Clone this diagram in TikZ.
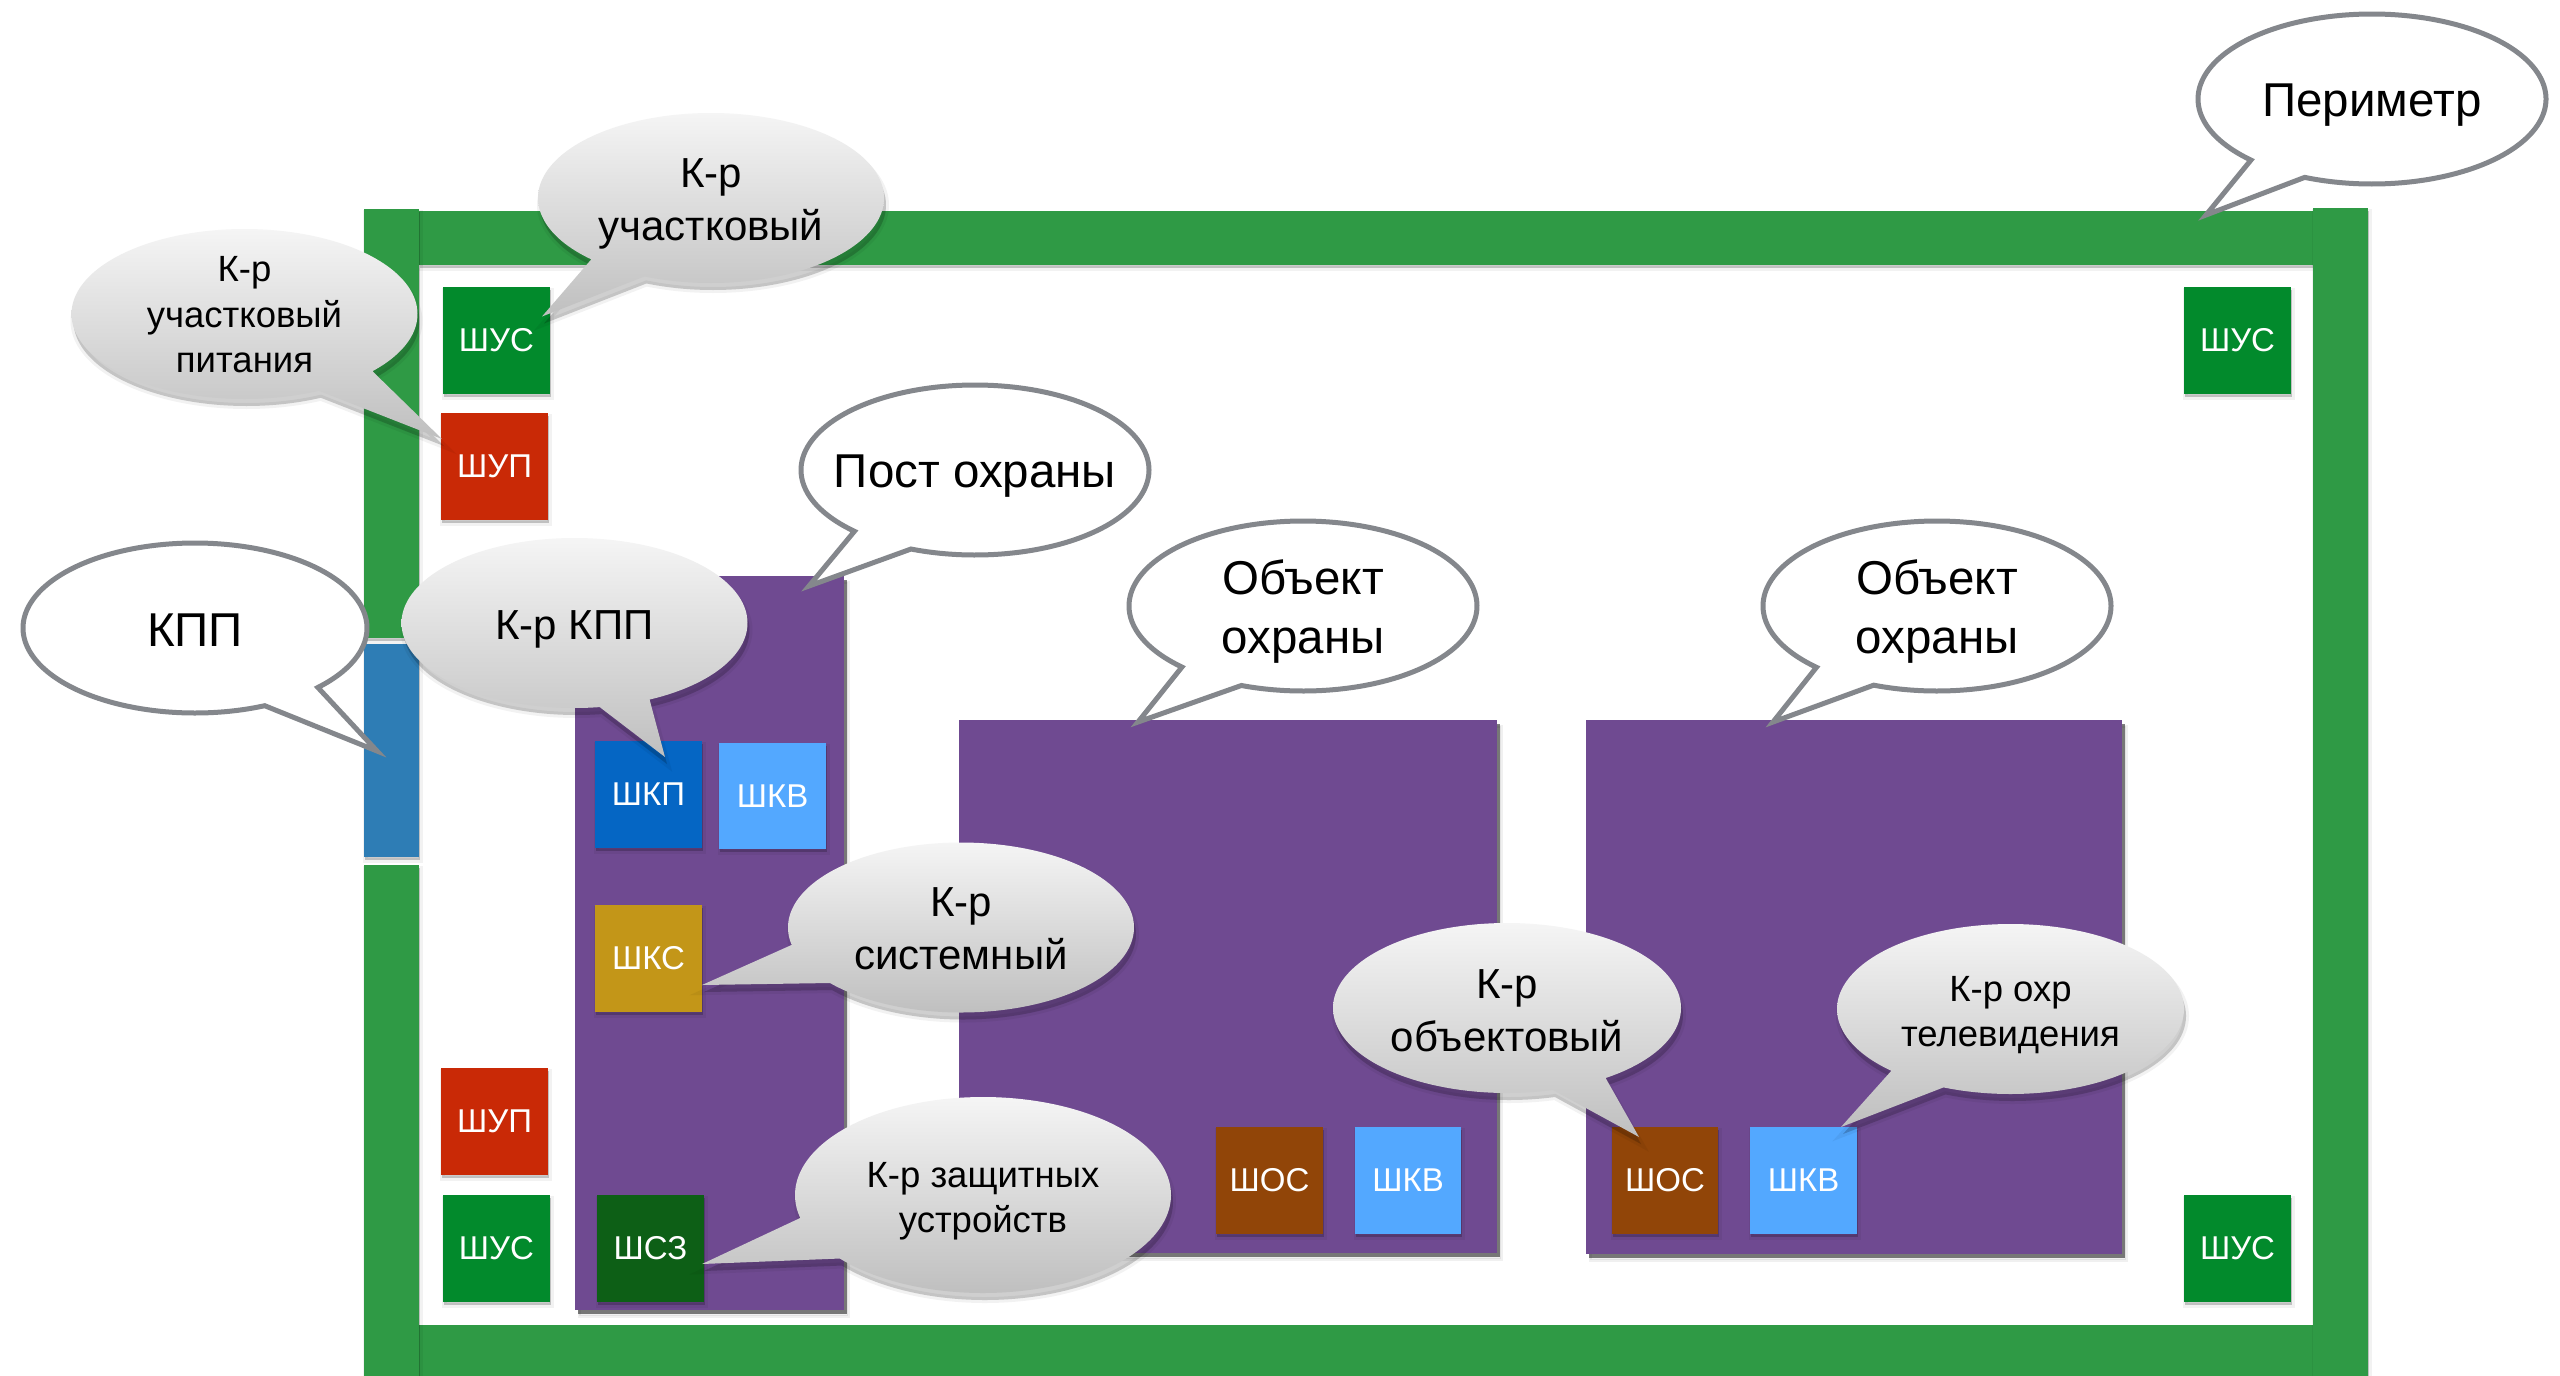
\documentclass[tikz,border=0pt]{standalone}
\usepackage{fontspec}
\setmainfont{Liberation Sans}
\usetikzlibrary{shadows}
\definecolor{framegreen}{HTML}{2F9A45}
\definecolor{panelpurple}{HTML}{6F4A91}
\definecolor{gateblue}{HTML}{2E7DB5}
\definecolor{cusgreen}{HTML}{028A2C}
\definecolor{cupred}{HTML}{C92906}
\definecolor{ckpblue}{HTML}{0566C4}
\definecolor{ckvblue}{HTML}{53A8FF}
\definecolor{cksgold}{HTML}{C39618}
\definecolor{cszgreen}{HTML}{0D5F16}
\definecolor{cosbrown}{HTML}{914508}
\definecolor{bubbleedge}{HTML}{84878C}
\tikzset{
  x=1pt,y=-1pt,
  flat/.style={draw=none,inner sep=0pt,outer sep=0pt,rectangle},
  softshade/.style={general shadow={fill=black,draw=black,line width=5pt,opacity=.05,shadow xshift=1pt,shadow yshift=-3pt},
                    general shadow={fill=black,opacity=.16,shadow xshift=1pt,shadow yshift=-3pt}},
  framebar/.style={flat,fill=framegreen,softshade},
  panel/.style={flat,fill=panelpurple,general shadow={fill=black,draw=black,line width=3pt,opacity=.06,shadow xshift=4pt,shadow yshift=-6pt},general shadow={fill=black,opacity=.5,shadow xshift=3pt,shadow yshift=-4pt}},
  cabinet/.style={flat,softshade,text=white,font=\fontsize{33}{40}\selectfont},
  outlinebubble/.style={draw=bubbleedge,line width=5pt,fill=white,line join=miter},
  graybubble/.style={top color=white!96!black,bottom color=black!25,draw=none},
  bigtext/.style={font=\fontsize{47.5}{59}\selectfont,align=center,inner sep=0pt,yshift=-6pt},
  midtext/.style={font=\fontsize{42}{53}\selectfont,align=center,inner sep=0pt,yshift=-6pt},
  smalltext/.style={font=\fontsize{36.5}{45.5}\selectfont,align=center,inner sep=0pt,yshift=-6pt}
}
% rectangle as a node, given by its corners
\newcommand\rbox[7]{%
  \pgfmathsetmacro\zrcx{(#3+#5)/2}\pgfmathsetmacro\zrcy{(#4+#6)/2}%
  \pgfmathsetmacro\zrw{#5-#3}\pgfmathsetmacro\zrh{#6-#4}%
  \node[#1,minimum width=\zrw pt,minimum height=\zrh pt] (#2) at (\zrcx,\zrcy) {#7};}
% ellipse geometry, then tail tip and the two tail roots
\def\bc(#1,#2,#3,#4){\def\zcx{#1}\def\zcy{#2}\def\zrx{#3}\def\zry{#4}}
\def\bt(#1,#2)(#3,#4)(#5,#6){\def\ztx{#1}\def\zty{#2}\def\zax{#3}\def\zay{#4}\def\zbx{#5}\def\zby{#6}}
\newcommand\bubblecalc{%
  \pgfmathsetmacro\zaa{atan2((\zay-\zcy)/\zry,(\zax-\zcx)/\zrx)}%
  \pgfmathsetmacro\zab{atan2((\zby-\zcy)/\zry,(\zbx-\zcx)/\zrx)}%
  \pgfmathsetmacro\zd{mod(\zab-\zaa+720,360)}%
  \pgfmathsetmacro\zend{\zd<180?\zaa+\zd-360:\zaa+\zd}}
\def\zshape{(\ztx,\zty) -- plot[domain=\zaa:\zend,samples=240,variable=\t] ({\zcx+\zrx*cos(\t)},{\zcy+\zry*sin(\t)}) -- cycle}
% #1 text style, #2 name, #3 text
\newcommand\whitebubble[3]{\bubblecalc
  \path[outlinebubble] \zshape;
  \node[#1] (#2) at (\zcx,\zcy) {#3};}
\newcommand\shadedbubble[3]{\bubblecalc
  \begin{scope}[shift={(2,7)}]\path[fill=black,opacity=.05,draw=black,line width=6pt] \zshape;\path[fill=black,opacity=.14] \zshape;\end{scope}
  \path[graybubble] \zshape;
  \node[#1] (#2) at (\zcx,\zcy) {#3};}
\begin{document}
\begin{tikzpicture}
\useasboundingbox (0,0) rectangle (2560,1376);
\fill[white] (0,0) rectangle (2560,1376);
% frame
\rbox{framebar}{bartop}{419}{211}{2313}{265}{}
\rbox{framebar}{barbottom}{419}{1325}{2313}{1376}{}
\rbox{framebar}{barleftup}{364}{209}{419}{638}{}
\rbox{framebar}{barleftlow}{364}{865}{419}{1376}{}
\rbox{framebar}{barright}{2313}{208}{2368}{1376}{}
\rbox{flat,fill=gateblue,softshade}{gate}{364}{644}{419}{857}{}
% panels
\rbox{panel}{post}{575}{576}{844}{1310}{}
\rbox{panel}{objone}{959}{720}{1497}{1253}{}
\rbox{panel}{objtwo}{1586}{720}{2122}{1254}{}
% cabinets
\rbox{cabinet,fill=cusgreen}{usa}{443}{287}{550}{394}{ШУС}
\rbox{cabinet,fill=cupred}{upa}{441}{413}{548}{520}{ШУП}
\rbox{cabinet,fill=cusgreen}{usb}{2184}{287}{2291}{394}{ШУС}
\rbox{cabinet,fill=cupred}{upb}{441}{1068}{548}{1175}{ШУП}
\rbox{cabinet,fill=cusgreen}{usc}{443}{1195}{550}{1302}{ШУС}
\rbox{cabinet,fill=cusgreen}{usd}{2184}{1195}{2291}{1302}{ШУС}
\rbox{cabinet,fill=ckpblue}{kp}{595}{741}{702}{848}{ШКП}
\rbox{cabinet,fill=ckvblue}{kva}{719}{743}{826}{849}{ШКВ}
\rbox{cabinet,fill=cksgold}{ks}{595}{905}{702}{1012}{ШКС}
\rbox{cabinet,fill=cszgreen}{sz}{597}{1195}{704}{1302}{ШСЗ}
\rbox{cabinet,fill=cosbrown}{osa}{1216}{1127}{1323}{1234}{ШОС}
\rbox{cabinet,fill=ckvblue}{kvb}{1355}{1127}{1461}{1234}{ШКВ}
\rbox{cabinet,fill=cosbrown}{osb}{1612}{1127}{1718}{1234}{ШОС}
\rbox{cabinet,fill=ckvblue}{kvc}{1750}{1127}{1857}{1234}{ШКВ}
% white callouts
\bc(2372,99,174,85)\bt(2206,215)(2253,159)(2305,177)
\whitebubble{bigtext}{perimeter}{Периметр}
\bc(195,628,172,85)\bt(377,751)(319,688)(265,706)
\whitebubble{bigtext,yshift=4pt}{gatelabel}{КПП}
\bc(975,470,174,85)\bt(809,586)(855,531)(911,549)
\whitebubble{bigtext}{postlabel}{Пост охраны}
\bc(1303,606,174,85)\bt(1138,722)(1184,666)(1241,686)
\whitebubble{bigtext}{objlabela}{Объект\\охраны}
\bc(1937,606,174,85)\bt(1773,722)(1819,666)(1873,686)
\whitebubble{bigtext}{objlabelb}{Объект\\охраны}
% shaded callouts
\bc(711,198,173,85)\bt(542,316.5)(590,260)(644,277)
\shadedbubble{midtext}{ctrlsection}{К-р\\участковый}
\bc(244.5,314,173,85)\bt(442,439)(372,371)(319,391)
\shadedbubble{smalltext,yshift=5pt}{ctrlpower}{К-р\\участковый\\питания}
\bc(574.5,623,173,85)\bt(665,757)(650,700)(600,708)
\shadedbubble{midtext}{ctrlgate}{К-р КПП}
\bc(961,927.5,173,85)\bt(702,985)(791,945)(830,983)
\shadedbubble{midtext,yshift=5pt}{ctrlsystem}{К-р\\системный}
\bc(983,1195,188,98)\bt(702,1264)(800,1218)(841,1258)
\shadedbubble{smalltext}{ctrlprotect}{К-р защитных\\устройств}
\bc(1507,1008,174,85)\bt(1639,1137)(1607,1079)(1554,1092)
\shadedbubble{midtext,yshift=3pt}{ctrlobject}{К-р\\объектовый}
\bc(2010.5,1009,173.5,85)\bt(1841,1127)(1889,1072)(1943,1088)
\shadedbubble{smalltext}{ctrltv}{К-р охр\\телевидения}
\end{tikzpicture}
\end{document}
